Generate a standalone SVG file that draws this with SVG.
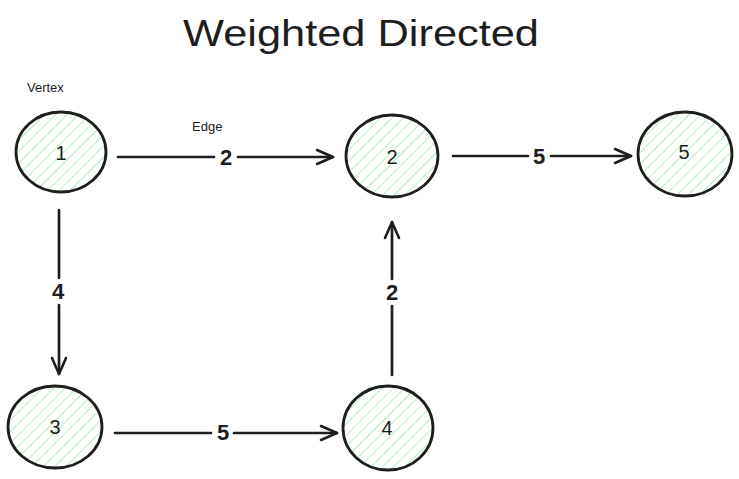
<svg xmlns="http://www.w3.org/2000/svg" width="739" height="479" viewBox="0 0 739 479">
<style>
.node ellipse{fill:url(#hatch);stroke:#1e1e1e;stroke-width:2.8}
.node text{font-family:"Liberation Sans",sans-serif;font-size:20px;fill:#1e1e1e;text-anchor:middle;dominant-baseline:central}
.edge{stroke:#1e1e1e;stroke-width:2.7;fill:none;stroke-linecap:round}
.lbl{font-family:"Liberation Sans",sans-serif;font-size:22px;font-weight:bold;fill:#1e1e1e;text-anchor:middle;dominant-baseline:central}
.note{font-family:"Liberation Sans",sans-serif;font-size:13px;fill:#1e1e1e}
.title{font-family:"Liberation Sans",sans-serif;font-size:36px;fill:#1e1e1e;text-anchor:middle}
</style>
<defs>
<pattern id="hatch" patternUnits="userSpaceOnUse" width="8" height="8" patternTransform="rotate(45)">
<rect width="8" height="8" fill="#ffffff"/>
<line x1="0" y1="0" x2="0" y2="8" stroke="#a8ecb3" stroke-width="1.8"/>
</pattern>
<marker id="arr" viewBox="0 0 20 20" refX="18" refY="10" markerWidth="20" markerHeight="20" markerUnits="userSpaceOnUse" orient="auto">
<path d="M2 3 L18 10 L2 17" fill="none" stroke="#1e1e1e" stroke-width="2.6" stroke-linecap="round" stroke-linejoin="round"/>
</marker>
</defs>
<rect width="739" height="479" fill="#ffffff"/>
<text class="title" x="361" y="46" textLength="356" lengthAdjust="spacingAndGlyphs">Weighted Directed</text>
<text class="note" x="27" y="92">Vertex</text>
<text class="note" x="192" y="131">Edge</text>
<g id="connectors">
<g id="e12"><path class="edge" d="M118 157 H214 M238 157 H333" marker-end="url(#arr)"/><text class="lbl" x="226" y="157">2</text></g>
<g id="e25"><path class="edge" d="M453 156 H528 M551 156 H631" marker-end="url(#arr)"/><text class="lbl" x="539" y="156">5</text></g>
<g id="e13"><path class="edge" d="M59 210 V278 M59 305 V374" marker-end="url(#arr)"/><text class="lbl" x="58" y="291">4</text></g>
<g id="e34"><path class="edge" d="M115 433 H211 M234 433 H337" marker-end="url(#arr)"/><text class="lbl" x="223" y="432">5</text></g>
<g id="e42"><path class="edge" d="M392 375 V306 M392 279 V222" marker-end="url(#arr)"/><text class="lbl" x="392" y="292">2</text></g>
</g>
<g id="n1" class="node"><ellipse cx="61" cy="152" rx="45" ry="40"/><text x="61" y="153">1</text></g>
<g id="n2" class="node"><ellipse cx="392" cy="156" rx="46" ry="41"/><text x="392" y="157">2</text></g>
<g id="n5" class="node"><ellipse cx="685" cy="154" rx="47" ry="42"/><text x="684" y="152">5</text></g>
<g id="n3" class="node"><ellipse cx="55" cy="427" rx="47" ry="41"/><text x="55" y="427">3</text></g>
<g id="n4" class="node"><ellipse cx="388" cy="428" rx="45" ry="42"/><text x="387" y="428">4</text></g>
</svg>
